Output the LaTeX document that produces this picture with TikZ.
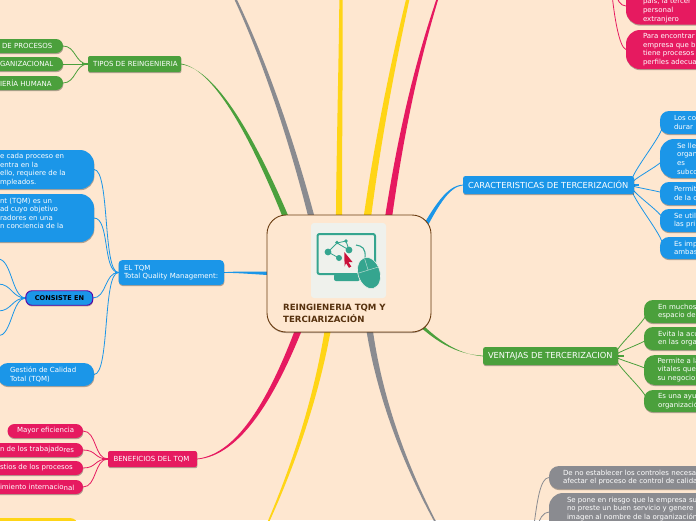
\documentclass[tikz,border=0pt]{standalone}
\usepackage{fontspec}
\setmainfont{DejaVu Sans}
\usetikzlibrary{calc,shadows}
\pgfdeclarelayer{bgl}\pgfdeclarelayer{edges}
\pgfsetlayers{bgl,edges,main}
\definecolor{pagebg}{HTML}{FEE7D0}
\definecolor{cgreen}{HTML}{4BA03C}
\definecolor{cblue}{HTML}{1B96E8}
\definecolor{cpink}{HTML}{E61A60}
\definecolor{cyellow}{HTML}{FFD516}
\definecolor{cgrey}{HTML}{8A8B90}
\definecolor{cbrown}{HTML}{6B3D12}
\definecolor{cteal}{HTML}{35A58F}
\definecolor{ciconbg}{HTML}{EFF1EC}
\tikzset{
  shape box/.style={inner sep=0pt,outer sep=0pt,draw=none,rectangle,
    drop shadow={shadow xshift=0.4pt,shadow yshift=-1.2pt,opacity=.3,fill=black}},
  lbl/.style={anchor=west,inner sep=0pt,outer sep=0pt,align=left,text=white},
  small text/.style={font=\fontsize{7}{8.6}\selectfont},
  mid text/.style={font=\fontsize{7}{8.6}\selectfont},
  big text/.style={font=\fontsize{8.3}{9}\selectfont},
  twig/.style={line width=.8pt},
  stub/.style={line width=1.5pt},
}
% name x1 y1 x2 y2 radius colour textx text
\newcommand\pbox[9]{%
  \node[shape box,fill=#7,rounded corners=#6pt,
    minimum width={(#4-#2)*1pt},minimum height={(#5-#3)*1pt}]
    (#1) at ({(#2+#4)/2},{(#3+#5)/2}) {};
  \lblnode{#1}{#8}{#3}{#5}{#9}}
\newcommand\lblnode[5]{\node[lbl,txtsty] (#1-t) at (#2,{(#3+#4)/2}) {#5};}
% thick end, c1, c2, thin end, offset thick, offset thin, colour
\newcommand\taper[7]{%
  \fill[#7] ($(#1)+#5$) .. controls ($(#2)+0.667*#5+0.333*#6$) and ($(#3)+0.333*#5+0.667*#6$) .. ($(#4)+#6$)
    -- ($(#4)-#6$) .. controls ($(#3)-0.333*#5-0.667*#6$) and ($(#2)-0.667*#5-0.333*#6$) .. ($(#1)-#5$) -- cycle;}
\newcommand\sconn[4]{\draw[twig,#1] (#2) .. controls +(#4*-1,0) and +(#4,0) .. (#3);}
\begin{document}
\begin{tikzpicture}[x=1pt,y=-1pt]
\useasboundingbox (0,0) rectangle (696,520);
\begin{pgfonlayer}{bgl}
\fill[pagebg] (0,0) rectangle (696,520);
\end{pgfonlayer}
% central
\node[rectangle,draw=cbrown,line width=.9pt,fill=pagebg,rounded corners=19pt,inner sep=0pt,outer sep=0pt,
  minimum width=164pt,minimum height=117pt,
  drop shadow={shadow xshift=0pt,shadow yshift=-1pt,opacity=.3,fill=black}] (central) at (349,273.5) {};
\node[rectangle,fill=ciconbg,rounded corners=3pt,inner sep=0pt,minimum width=75pt,minimum height=75pt] (icon) at (348.5,260.5) {};
\draw[cteal,line width=2pt,rounded corners=2pt] (317.5,234) rectangle (375,274);
\fill[cteal,rounded corners=2pt] (334,274) rectangle (360,281);
\draw[cteal,line width=.8pt] (328,252) -- (337,243) -- (346,241) -- (349,250) -- (337,243) (328,252) -- (339,258);
\fill[cteal] (328,252) circle (3.4) (339,258) circle (3) (349,250) circle (3.4) (337,242.5) circle (1.8) (346,241) circle (1.8);
\draw[cteal,line width=1.1pt] (356,245) .. controls (362,246) and (366,248) .. (365,258);
\fill[cteal,draw=ciconbg,line width=.6pt,rotate around={17:(369,273)}] (369,273) ellipse [x radius=11,y radius=16];
\draw[ciconbg!70!cteal,line width=.5pt,rotate around={17:(369,273)}] (358,270) -- (380,270) (369,258) -- (369,270);
\fill[cpink!70!red!85!black] (344.3,252) -- (352.5,262) -- (348.3,262) -- (351.3,266.5) -- (349,267.8) -- (346,263.2) -- (344.6,266.5) -- cycle;
\node[anchor=west,inner sep=0pt,align=left,text=cbrown!80!black,font=\fontsize{8.6}{12}\bfseries\selectfont] (central-t) at (283,313.5) {REINGIENERIA TQM Y\\TERCIARIZACIÓN};

% green left
\tikzset{txtsty/.style={mid text}}
\pbox{tipos}{88}{56}{181}{72}{2}{cgreen}{93}{TIPOS DE REINGENIERIA}
\tikzset{txtsty/.style={small text}}
\pbox{ga}{-40}{39}{63}{53}{7}{cgreen}{2}{DE PROCESOS}
\pbox{gb}{-40}{57}{63}{71}{7}{cgreen}{0}{GANIZACIONAL}
\pbox{gc}{-40}{76}{63}{90}{7}{cgreen}{0}{IERÍA HUMANA}
% blue left
\pbox{tqm}{118.5}{260}{224}{285}{4}{cblue}{124}{EL TQM\\Total Quality Management:}
\pbox{ba}{-40}{150}{94}{189}{14}{cblue}{0}{e cada proceso en\\entra en la\\ello, requiere de la\\mpleados.}
\pbox{bb}{-40}{194}{94}{242}{14}{cblue}{0}{}
\node[lbl,small text] (bb-l) at (0,213.3) {nt (TQM) es un\\ad cuyo objetivo\\radores en una\\n conciencia de la};
\pbox{bd}{-2}{363}{94}{386}{10}{cblue}{10}{Gestión de Calidad\\Total (TQM)}
\node[shape box,fill=cblue,draw=violet!70!blue,line width=.9pt,rounded corners=6pt,minimum width=67pt,minimum height=14.5pt] (bc) at (59.3,298) {};
\node[anchor=center,inner sep=0pt,font=\fontsize{6.6}{8}\bfseries\selectfont] (bc-t) at (59.5,298) {CONSIS\raisebox{-.6pt}{TE EN}};
% pink left
\tikzset{txtsty/.style={mid text}}
\pbox{ben}{108}{451}{197}{467}{2}{cpink}{113.5}{BENEFICIOS DEL TQM}
\tikzset{txtsty/.style={small text}}
\pbox{pa}{7.5}{424}{83}{438}{7}{cpink}{17}{Mayor eficiencia}
\pbox{pb}{-40}{443}{83}{457}{7}{cpink}{0}{n de los trabajado\raisebox{-.8pt}{res}}
\pbox{pc}{-40}{461}{83}{475}{7}{cpink}{0}{stios de los procesos}
\pbox{pd}{-40}{480}{83}{494}{7}{cpink}{0}{imiento internacio\raisebox{-.8pt}{nal}}
\node[rectangle,fill=cyellow,rounded corners=8pt,inner sep=0pt,minimum width=118pt,minimum height=24pt] (ya) at (19,530) {};
% right blue
\tikzset{txtsty/.style={big text}}
\pbox{car}{463}{176}{634}{194}{2.5}{cblue}{468}{CARACTERISTICAS DE TERCERIZACIÓN}
\tikzset{txtsty/.style={small text}}
\pbox{ra}{660}{111}{740}{134}{9}{cblue}{674}{Los co\\durar}
\pbox{rb}{660}{139}{740}{178}{14}{cblue}{677}{Se lle\\organ\\es\\subco}
\pbox{rc}{660}{182}{740}{205}{9}{cblue}{674}{Permit\\de la c}
\pbox{rd}{660}{209}{740}{232}{9}{cblue}{674}{Se util\\las pri}
\pbox{re}{660}{237}{740}{259}{9}{cblue}{674}{Es imp\\ambas}
% right green
\tikzset{txtsty/.style={big text}}
\pbox{ven}{483}{347}{618}{365}{2.5}{cgreen}{488}{VENTAJAS DE TERCERIZACION}
\tikzset{txtsty/.style={small text}}
\pbox{va}{644}{300}{740}{323}{9}{cgreen}{658}{En muchos\\espacio de}
\pbox{vb}{644}{327}{740}{350}{9}{cgreen}{658}{Evita la acu\\en las orga}
\pbox{vc}{644}{355}{740}{385}{11}{cgreen}{657.5}{Permite a la\\vitales que\\su negocio.}
\pbox{vd}{644}{390}{740}{412}{9}{cgreen}{658}{Es una ayu\\organizació}
% right pink
\pbox{ta}{626}{-30}{740}{24.5}{14}{cpink}{643}{}
\node[lbl,small text] (ta-l) at (643,10.4) {país, la tercer\\personal\\extranjero};
\pbox{tb}{626}{30}{740}{69}{14}{cpink}{643}{Para encontrar\\empresa que b\\tiene procesos\\perfiles adecua}
% right grey
\pbox{ha}{549}{466}{740}{489}{10}{cgrey}{563}{De no establecer los controles necesa\\afectar el proceso de control de calida}
\pbox{hb}{549}{493}{740}{545}{14}{cgrey}{567}{}
\node[lbl,small text,anchor=north west] (hb-l) at (567,497) {Se pone en riesgo que la empresa su\\no preste un buen servicio y genere\\imagen al nombre de la organización};

% free ends
\coordinate (fGreyTop) at (233,-6);
\coordinate (fYelA) at (341,-6);
\coordinate (fYelB) at (409,-6);
\coordinate (fPinkTop) at (439,-6);
\coordinate (fGreyBot) at (437,525);
\coordinate (fYelBot) at (267,525);
\coordinate (l1) at (-2,259); \coordinate (l2) at (-2,284); \coordinate (l3) at (-2,311); \coordinate (l4) at (-2,336);
\coordinate (tr1) at (612,-6); \coordinate (tr2) at (616,-6);
\coordinate (br1) at (534,525); \coordinate (br2) at (538,525);
% thick ends inside the central node
\coordinate (eGreen) at (293,235);
\coordinate (eGreyT) at (316,235);
\coordinate (eYelA) at (339,235);
\coordinate (eYelB) at (365,235);
\coordinate (ePinkT) at (386,235);
\coordinate (eBlueR) at (415,245);
\coordinate (eGreenR) at (410,315);
\coordinate (eGreyB) at (367,310);
\coordinate (eYelB2) at (331,310);
\coordinate (ePinkB) at (306,310);
\coordinate (eBlueL) at (285,274);

\begin{pgfonlayer}{edges}
\taper{eGreen}{258,147}{217,69}{tipos.east}{(2.9,-1)}{(0,.4)}{cgreen}
\taper{eGreyT}{295,150}{265,60}{fGreyTop}{(3.1,-.8)}{(1,-.3)}{cgrey}
\taper{eYelA}{339,150}{341,60}{fYelA}{(3.2,0)}{(1.6,0)}{cyellow}
\taper{eYelB}{377,140}{396,50}{fYelB}{(3.8,.4)}{(1.6,.2)}{cyellow}
\taper{ePinkT}{402,120}{421,50}{fPinkTop}{(3.6,.5)}{(.8,.1)}{cpink}
\taper{eBlueR}{436,205}{448,186}{car.west}{(2.2,1.2)}{(0,.35)}{cblue}
\taper{eGreenR}{435,340}{455,354}{ven.west}{(1.5,-1.3)}{(0,.35)}{cgreen}
\taper{eGreyB}{375,385}{402,460}{fGreyBot}{(3.4,-.5)}{(.7,-.3)}{cgrey}
\taper{eYelB2}{320,385}{298,455}{fYelBot}{(3.2,.6)}{(.7,.3)}{cyellow}
\taper{ePinkB}{275,395}{240,455}{ben.east}{(3.2,1.6)}{(0,.35)}{cpink}
\taper{eBlueL}{255,273}{240,272}{tqm.east}{(0,2)}{(0,.3)}{cblue}
% green left
\draw[stub,cgreen] (tipos.west) -- +(-6,0);
\sconn{cgreen}{tipos.west}{ga.east}{13}
\sconn{cgreen}{tipos.west}{gb.east}{13}
\sconn{cgreen}{tipos.west}{gc.east}{13}
% blue left
\draw[stub,cblue] (tqm.west) -- +(-4,0);
\sconn{cblue}{tqm.west}{ba.east}{16}
\sconn{cblue}{tqm.west}{bb.east}{16}
\sconn{cblue}{tqm.west}{bc.east}{14}
\sconn{cblue}{tqm.west}{bd.east}{16}
\draw[stub,cblue] (bc.west) -- +(-4,0);
\sconn{cblue}{bc.west}{l1}{14}
\sconn{cblue}{bc.west}{l2}{14}
\sconn{cblue}{bc.west}{l3}{14}
\sconn{cblue}{bc.west}{l4}{14}
% pink left
\draw[stub,cpink] (ben.west) -- +(-6,0);
\sconn{cpink}{ben.west}{pa.east}{14}
\sconn{cpink}{ben.west}{pb.east}{14}
\sconn{cpink}{ben.west}{pc.east}{14}
\sconn{cpink}{ben.west}{pd.east}{14}
% right blue
\draw[stub,cblue] (car.east) -- +(5,0);
\sconn{cblue}{ra.west}{car.east}{-16}
\sconn{cblue}{rb.west}{car.east}{-16}
\sconn{cblue}{rc.west}{car.east}{-16}
\sconn{cblue}{rd.west}{car.east}{-16}
\sconn{cblue}{re.west}{car.east}{-16}
% right green
\draw[stub,cgreen] (ven.east) -- +(6,0);
\sconn{cgreen}{va.west}{ven.east}{-15}
\sconn{cgreen}{vb.west}{ven.east}{-15}
\sconn{cgreen}{vc.west}{ven.east}{-15}
\sconn{cgreen}{vd.west}{ven.east}{-15}
% right pink
\draw[twig,cpink] (tb.west) .. controls +(-7,-2) and +(2,20) .. (tr1);
\draw[twig,cpink] (626,6) .. controls +(-6,0) and +(1,5) .. (tr2);
% right grey
\draw[twig,cgrey] (ha.west) .. controls +(-9,0) and +(3,-22) .. (br1);
\draw[twig,cgrey] (549,512) .. controls +(-6,0) and +(1,-5) .. (br2);
\end{pgfonlayer}
\end{tikzpicture}
\end{document}
